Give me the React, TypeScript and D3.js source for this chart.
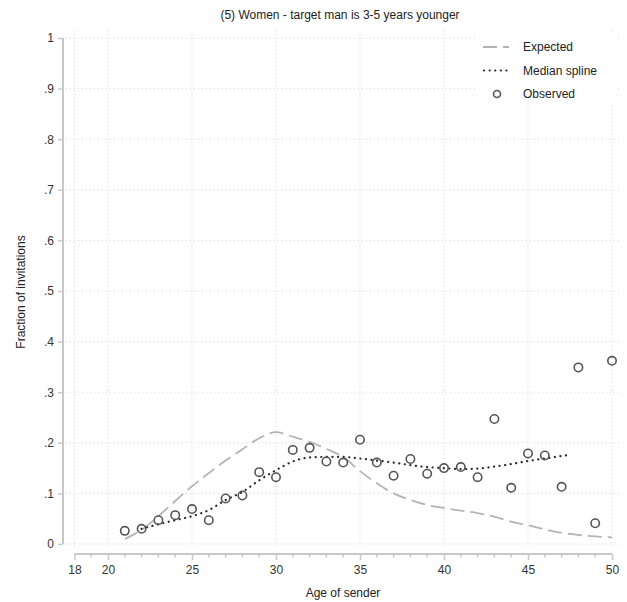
import React, { useEffect, useRef } from "react";
import * as d3 from "d3";

const obsAges = [21, 22, 23, 24, 25, 26, 27, 28, 29, 30, 31, 32, 33, 34, 35, 36, 37, 38, 39, 40, 41, 42, 43, 44, 45, 46, 47, 48, 49, 50];
const observed = [0.026, 0.030, 0.047, 0.057, 0.069, 0.047, 0.090, 0.096, 0.142, 0.132, 0.186, 0.190, 0.163, 0.161, 0.206, 0.161, 0.135, 0.168, 0.139, 0.150, 0.152, 0.132, 0.247, 0.111, 0.179, 0.175, 0.113, 0.349, 0.041, 0.362];

const expAges = [21, 22, 23, 24, 25, 26, 27, 28, 29, 30, 31, 32, 33, 34, 35, 36, 37, 38, 39, 40, 41, 42, 43, 44, 45, 46, 47, 48, 49, 50];
const expected = [0.010, 0.028, 0.055, 0.085, 0.114, 0.140, 0.165, 0.187, 0.209, 0.221, 0.212, 0.202, 0.188, 0.172, 0.144, 0.120, 0.100, 0.087, 0.077, 0.071, 0.066, 0.061, 0.054, 0.044, 0.037, 0.029, 0.022, 0.018, 0.015, 0.013];

const splineAges = [22, 23, 24, 25, 26, 27, 28, 29, 30, 31, 32, 33, 34, 35, 36, 37, 38, 39, 40, 41, 42, 43, 44, 45, 46, 47.4];
const spline = [0.030, 0.039, 0.047, 0.055, 0.067, 0.087, 0.103, 0.126, 0.146, 0.163, 0.171, 0.172, 0.172, 0.169, 0.165, 0.161, 0.156, 0.152, 0.150, 0.148, 0.149, 0.153, 0.158, 0.164, 0.169, 0.176];

const xTicks = [18, 20, 25, 30, 35, 40, 45, 50];
const yTicks = [0, 0.1, 0.2, 0.3, 0.4, 0.5, 0.6, 0.7, 0.8, 0.9, 1];
const legendItems = ["Expected", "Median spline", "Observed"];

const fmtY = (v: number) => (v === 0 ? "0" : v === 1 ? "1" : d3.format(".1f")(v).replace(/^0/, ""));

export default function App() {
  const svgRef = useRef<SVGSVGElement>(null);

  useEffect(() => {
    const w = 627;
    const h = 602;
    const svg = d3.select(svgRef.current)
      .attr("width", w)
      .attr("height", h)
      .style("font-family", "'Liberation Sans', Arial, sans-serif");
    svg.selectAll("*").remove();

    const x = d3.scaleLinear().domain([18, 50]).range([74.4, 612]);
    const y = d3.scaleLinear().domain([0, 1]).range([544, 38]);

    svg.append("rect").attr("width", w).attr("height", h).attr("fill", "#fff");

    // grid
    const grid = svg.append("g").attr("stroke", "#d4d4d4").attr("stroke-width", 1).attr("stroke-dasharray", "1,3");
    grid.selectAll(".hg").data(yTicks).join("line")
      .attr("x1", 66).attr("x2", 622)
      .attr("y1", d => y(d)).attr("y2", d => y(d));
    grid.selectAll(".vg").data(xTicks).join("line")
      .attr("x1", d => x(d)).attr("x2", d => x(d))
      .attr("y1", 30).attr("y2", 550);

    // y axis
    const yAxis = d3.axisLeft(y).tickValues(yTicks).tickFormat(d => fmtY(+d)).tickSize(5).tickPadding(4);
    const gy = svg.append("g").attr("transform", "translate(63,0)").call(yAxis);
    gy.select(".domain").attr("stroke", "#c8c8c8").attr("stroke-width", 2).attr("d", `M0,${y(1)}V${y(0)}`);
    gy.selectAll(".tick line").attr("stroke", "#c8c8c8").attr("stroke-width", 1.5);
    gy.selectAll(".tick text").attr("fill", "#333").style("font-size", "12px").style("font-family", "'Liberation Sans', Arial, sans-serif");

    // x axis
    const xMinor = d3.range(18, 51);
    const gxm = svg.append("g").attr("transform", "translate(0,554)");
    gxm.selectAll("line").data(xMinor.filter(d => !xTicks.includes(d))).join("line")
      .attr("x1", d => x(d)).attr("x2", d => x(d)).attr("y1", 0).attr("y2", 3.5)
      .attr("stroke", "#c8c8c8").attr("stroke-width", 1.5);
    const xAxis = d3.axisBottom(x).tickValues(xTicks).tickFormat(d3.format("d")).tickSize(6).tickPadding(5);
    const gx = svg.append("g").attr("transform", "translate(0,554)").call(xAxis);
    gx.select(".domain").attr("stroke", "#c8c8c8").attr("stroke-width", 2).attr("d", `M${x(18)},0H${x(50)}`);
    gx.selectAll(".tick line").attr("stroke", "#c8c8c8").attr("stroke-width", 1.5);
    gx.selectAll(".tick text").attr("fill", "#333").style("font-size", "12px").style("font-family", "'Liberation Sans', Arial, sans-serif");

    // expected
    const line = d3.line<[number, number]>().x(d => x(d[0])).y(d => y(d[1])).curve(d3.curveMonotoneX);
    svg.append("path")
      .attr("d", line(expAges.map((a, i) => [a, expected[i]] as [number, number])))
      .attr("fill", "none").attr("stroke", "#b4b4b4").attr("stroke-width", 1.8)
      .attr("stroke-dasharray", "14,6");

    // median spline
    svg.append("path")
      .attr("d", line(splineAges.map((a, i) => [a, spline[i]] as [number, number])))
      .attr("fill", "none").attr("stroke", "#2a2a2a").attr("stroke-width", 2.2)
      .attr("stroke-linecap", "round").attr("stroke-dasharray", "0.1,5.5");

    // observed
    svg.append("g").selectAll("circle").data(obsAges).join("circle")
      .attr("cx", d => x(d)).attr("cy", (d, i) => y(observed[i]))
      .attr("r", 4.2).attr("fill", "none").attr("stroke", "#555").attr("stroke-width", 1.6);

    // legend
    const lg = svg.append("g");
    lg.append("rect").attr("x", 476).attr("y", 33).attr("width", 142).attr("height", 72).attr("fill", "#fff");
    const ly = (i: number) => 47 + i * 23.5;
    lg.append("line").attr("x1", 483).attr("x2", 509).attr("y1", ly(0)).attr("y2", ly(0))
      .attr("stroke", "#b4b4b4").attr("stroke-width", 1.8).attr("stroke-dasharray", "14,6");
    lg.append("line").attr("x1", 484).attr("x2", 509).attr("y1", ly(1)).attr("y2", ly(1))
      .attr("stroke", "#2a2a2a").attr("stroke-width", 2.2).attr("stroke-linecap", "round").attr("stroke-dasharray", "0.1,5.5");
    lg.append("circle").attr("cx", 497).attr("cy", ly(2)).attr("r", 3.5)
      .attr("fill", "none").attr("stroke", "#555").attr("stroke-width", 1.6);
    lg.selectAll("text").data(legendItems).join("text")
      .attr("x", 523).attr("y", (d, i) => ly(i)).attr("dy", "0.35em")
      .attr("fill", "#222").style("font-size", "12px").text(d => d);

    // titles
    svg.append("text").attr("x", 340).attr("y", 19).attr("text-anchor", "middle")
      .attr("fill", "#222").style("font-size", "12px").text("(5) Women - target man is 3-5 years younger");
    svg.append("text").attr("x", 343).attr("y", 597).attr("text-anchor", "middle")
      .attr("fill", "#222").style("font-size", "12px").text("Age of sender");
    svg.append("text").attr("transform", "translate(25,292) rotate(-90)").attr("text-anchor", "middle")
      .attr("fill", "#222").style("font-size", "12px").text("Fraction of invitations");
  }, []);

  return (
    <div style={{ position: "absolute", left: 0, top: 0 }}>
      <svg ref={svgRef}></svg>
    </div>
  );
}
